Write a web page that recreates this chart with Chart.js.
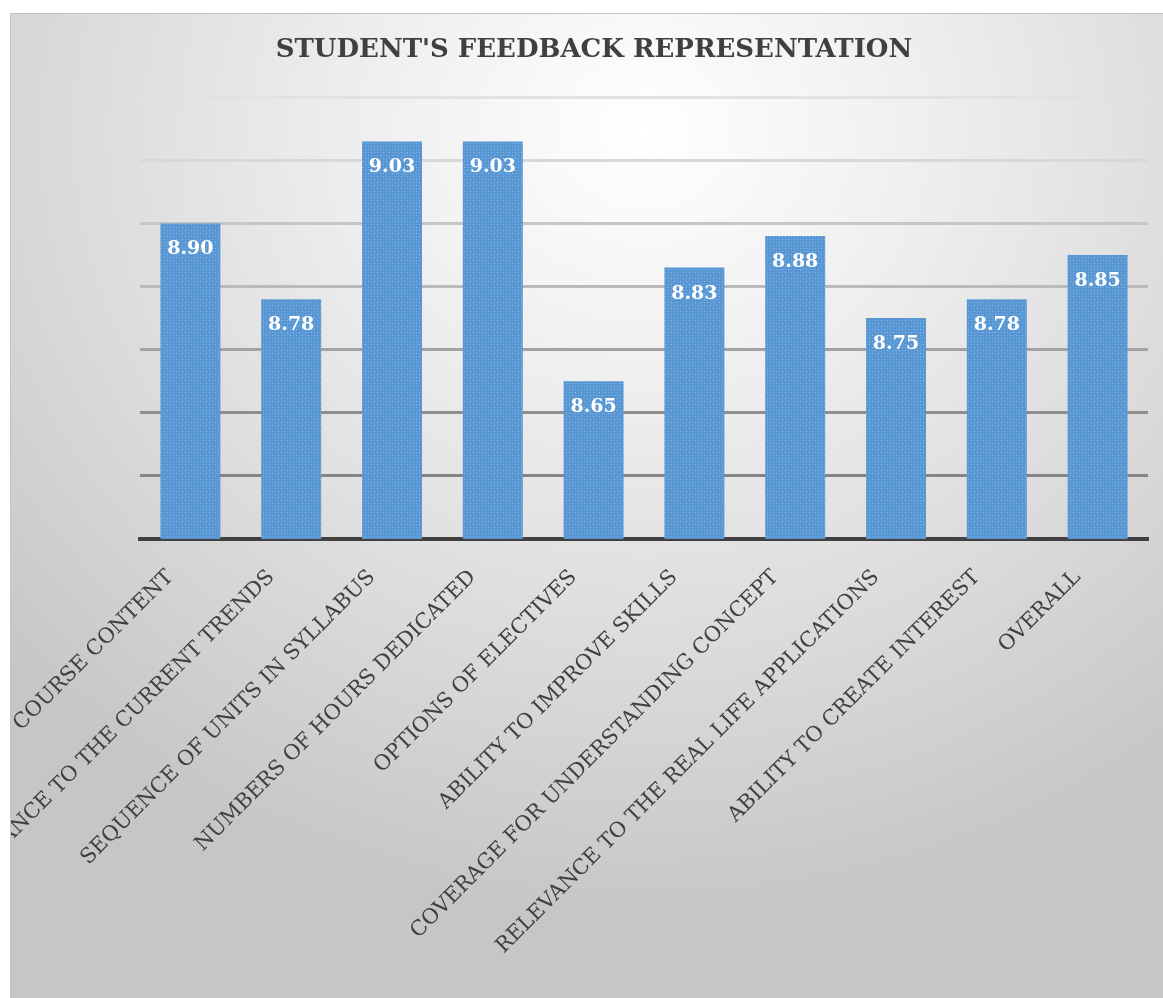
<!DOCTYPE html>
<html>
<head>
<meta charset="utf-8">
<script src="https://cdn.jsdelivr.net/npm/chart.js@4"></script>
<style>
  html, body { margin: 0; padding: 0; background: #fff; }
  #box {
    position: absolute; left: 10px; top: 13px;
    width: 1153px; height: 985px;
    border-top: 1px solid #c4c4c4; border-left: 1px solid #c4c4c4;
    box-sizing: border-box;
    background: radial-gradient(ellipse 75% 80% at 55% 12%, #ffffff 0%, #f0f0f0 30%, #dcdcdc 65%, #c6c6c6 100%);
  }
  #chart { display: block; }
</style>
</head>
<body>
<div id="box"><canvas id="chart" width="1152" height="984"></canvas></div>
<script>
const categories = [
    'COURSE CONTENT',
    'RELEVANCE TO THE CURRENT TRENDS',
    'SEQUENCE OF UNITS IN SYLLABUS',
    'NUMBERS OF HOURS DEDICATED',
    'OPTIONS OF ELECTIVES',
    'ABILITY TO IMPROVE SKILLS',
    'COVERAGE FOR UNDERSTANDING CONCEPT',
    'RELEVANCE TO THE REAL LIFE APPLICATIONS',
    'ABILITY TO CREATE INTEREST',
    'OVERALL'
];
const scores = [8.90, 8.78, 9.03, 9.03, 8.65, 8.83, 8.88, 8.75, 8.78, 8.85];
const yTicks = [8.4, 8.5, 8.6, 8.7, 8.8, 8.9, 9.0, 9.1];
const gridColors = ['rgba(0,0,0,0)', '#858585', '#8e8e8e', '#a3a3a3', '#bababa', '#c6c6c6', '#d8d8d8', '#e2e2e2'];

function makeBarPattern() {
    const tile = document.createElement('canvas');
    tile.width = 6;
    tile.height = 6;
    const t = tile.getContext('2d');
    t.fillStyle = '#5897d4';
    t.fillRect(0, 0, 6, 6);
    t.fillStyle = '#8dbbe6';
    t.fillRect(0, 0, 1, 1);
    t.fillRect(3, 3, 1, 1);
    t.fillStyle = '#72a9de';
    t.fillRect(3, 0, 1, 1);
    t.fillRect(0, 3, 1, 1);
    return t.createPattern(tile, 'repeat');
}

const valueLabels = {
    id: 'valueLabels',
    afterDatasetsDraw(chart) {
        const c = chart.ctx;
        const meta = chart.getDatasetMeta(0);
        c.save();
        c.fillStyle = '#ffffff';
        c.font = 'bold 19px "DejaVu Serif"';
        c.textAlign = 'center';
        c.textBaseline = 'middle';
        meta.data.forEach((bar, i) => {
            c.fillText(scores[i].toFixed(2), bar.x, bar.y + 26);
        });
        c.restore();
    }
};

const ctx = document.getElementById('chart').getContext('2d');

const chart = new Chart(ctx, {
    type: 'bar',
    data: {
        labels: categories,
        datasets: [{
            label: 'Score',
            data: scores,
            backgroundColor: makeBarPattern(),
            borderWidth: 0,
            barPercentage: 0.595,
            categoryPercentage: 1
        }]
    },
    options: {
        responsive: false,
        animation: false,
        layout: { padding: { left: 29, right: 15, top: 0, bottom: 0 } },
        plugins: {
            legend: { display: false },
            tooltip: { enabled: false },
            title: {
                display: true,
                text: "STUDENT'S FEEDBACK REPRESENTATION",
                color: '#404040',
                font: { family: '"DejaVu Serif"', size: 26, weight: 'bold' },
                padding: { top: 21, bottom: 31 }
            }
        },
        scales: {
            x: {
                offset: true,
                grid: { display: false },
                border: { display: true, color: '#404040', width: 4 },
                ticks: {
                    color: '#404040',
                    font: { family: '"DejaVu Serif"', size: 21 },
                    minRotation: 45,
                    maxRotation: 45,
                    autoSkip: false,
                    padding: 18,
                    labelOffset: -20
                },
                afterFit(scale) { scale.height = 459; }
            },
            y: {
                min: 8.4,
                max: 9.1,
                afterBuildTicks(scale) { scale.ticks = yTicks.map(v => ({ value: v })); },
                ticks: { display: false },
                border: { display: false },
                grid: {
                    drawTicks: false,
                    lineWidth: 3,
                    color: (c) => gridColors[c.index] || '#cccccc'
                },
                afterFit(scale) { scale.width = 100; }
            }
        }
    },
    plugins: [valueLabels]
});
</script>
</body>
</html>
